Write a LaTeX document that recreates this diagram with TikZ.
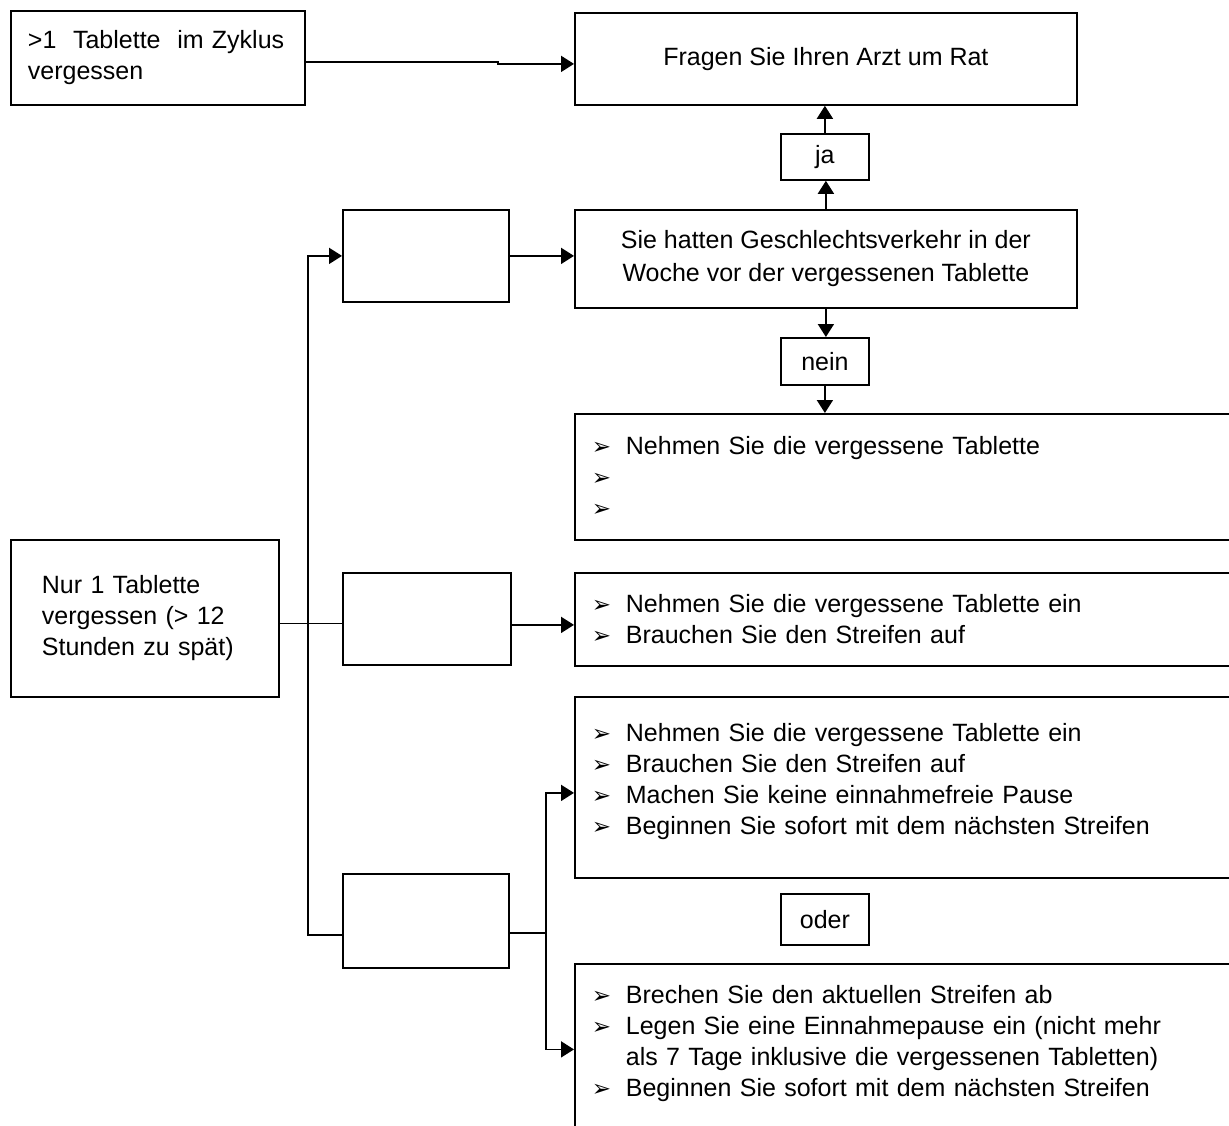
\documentclass[tikz,border=0pt]{standalone}
\usepackage{fontspec}
\setmainfont{Liberation Sans}
\newfontfamily\dejavu{DejaVu Sans}
\usetikzlibrary{arrows.meta}
\newcommand{\bul}{\makebox[34pt][l]{\fontsize{23}{23}\dejavu\symbol{"27A2}}}
\newcommand{\bulind}{\hspace*{34pt}}
\begin{document}
\begin{tikzpicture}[x=1pt,y=-1pt,
  box/.style={draw,line width=1.8pt,inner ysep=0pt,inner xsep=0pt,anchor=north west,
    font=\fontsize{25}{31}\selectfont},
  leftbox/.style={box,align=left},
  midbox/.style={box,align=center},
  bulbox/.style={box,align=left,minimum width=700pt,text width=666pt,inner xsep=17pt},
  line/.style={line width=1.8pt},
  arr/.style={line width=1.8pt,-{Triangle[length=13pt,width=16pt]}}]
\useasboundingbox (0,0) rectangle (1229,1126);
\fill[white] (0,0) rectangle (1229,1126);
\clip (0,0) rectangle (1229,1126);

% top left
\node[leftbox,minimum width=294pt,minimum height=94pt,text width=260pt,inner xsep=17pt] (tl) at (10,10)
  {>1\ \ Tablette\ \ im Zyklus\\vergessen};
\node[midbox,minimum width=502pt,minimum height=92pt] (fr) at (574,12) {Fragen Sie Ihren Arzt um Rat};
\node[midbox,minimum width=88pt,minimum height=46pt] (ja) at (780,133) {ja};
\node[midbox,minimum width=502pt,minimum height=98pt] (sh) at (574,209)
  {Sie hatten Geschlechtsverkehr in der\\[2pt]Woche vor der vergessenen Tablette};
\node[midbox,minimum width=88pt,minimum height=47pt] (nein) at (780,337) {nein};
\node[bulbox,minimum height=126pt] (b1) at (574,413)
  {\bul Nehmen Sie die vergessene Tablette\\ \bul\\ \bul};

% left
\node[leftbox,minimum width=268pt,minimum height=157pt,text width=206pt,inner xsep=31pt] (nur) at (10,539)
  {Nur 1 Tablette\\vergessen (> 12\\Stunden zu spät)};
\node[box,minimum width=166pt,minimum height=92pt] (m1) at (342,209) {};
\node[box,minimum width=168pt,minimum height=92pt] (m2) at (342,572) {};
\node[box,minimum width=166pt,minimum height=94pt] (m3) at (342,873) {};

\node[bulbox,minimum height=93pt] (b2) at (574,572)
  {\bul Nehmen Sie die vergessene Tablette ein\\ \bul Brauchen Sie den Streifen auf};
\node[bulbox,minimum height=181pt] (b3) at (574,696)
  {\bul Nehmen Sie die vergessene Tablette ein\\ \bul Brauchen Sie den Streifen auf\\
   \bul Machen Sie keine einnahmefreie Pause\\ \bul Beginnen Sie sofort mit dem nächsten Streifen\\[-15pt]\mbox{}};
\node[midbox,minimum width=88pt,minimum height=51pt] (oder) at (780,893) {oder};
\node[bulbox,minimum height=171pt] (b4) at (574,963)
  {\bul Brechen Sie den aktuellen Streifen ab\\ \bul Legen Sie eine Einnahmepause ein (nicht mehr\\
   \bulind als 7 Tage inklusive die vergessenen Tabletten)\\ \bul Beginnen Sie sofort mit dem nächsten Streifen\\[-15pt]\mbox{}};

% connectors
\draw[arr] ([yshift=-4pt]tl.east) -- ++(192,0) |- ([yshift=-5pt]fr.west);
\draw[arr] (sh.north) -- (sh.north |- ja.south);
\draw[arr] (ja.north) -- (ja.north |- fr.south);
\draw[arr] (sh.south) -- (sh.south |- nein.north);
\draw[arr] (nein.south) -- (nein.south |- b1.north);

\draw[line] ([yshift=-5pt]nur.east) -- ([yshift=-5pt]nur.east -| m2.west);
\draw[arr] ([yshift=-14pt]m3.west) -- ++(-34,0) |- (m1.west);
\draw[arr] (m1.east) -- (m1.east -| sh.west);
\draw[arr] ([yshift=-6pt]m2.east) -- ([yshift=-6pt]m2.east -| b2.west);
\draw[line] ([yshift=-12pt]m3.east) -- ++(36,0) coordinate (sp);
\draw[arr] (sp) |- ([yshift=-5.5pt]b3.west);
\draw[arr] (sp) |- (b4.west);
\end{tikzpicture}
\end{document}
